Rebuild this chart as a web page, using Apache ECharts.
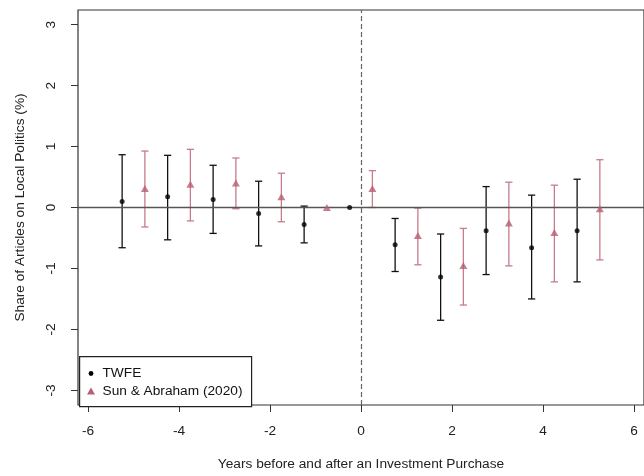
<!DOCTYPE html>
<html>
<head>
<meta charset="utf-8">
<script src="https://cdn.jsdelivr.net/npm/echarts@6/dist/echarts.min.js"></script>
<style>
  html, body { margin: 0; padding: 0; background: #fff; }
  #chart { width: 644px; height: 476px; }
</style>
</head>
<body>
<div id="chart"></div>
<script>
// Event-study estimates: share of articles on local politics (%)
const twfeX   = [-5.25, -4.25, -3.25, -2.25, -1.25, -0.25, 0.75, 1.75, 2.75, 3.75, 4.75];
const twfeEst = [0.10, 0.175, 0.13, -0.10, -0.28, 0, -0.61, -1.14, -0.38, -0.66, -0.38];
const twfeLo  = [-0.66, -0.53, -0.425, -0.63, -0.58, 0, -1.05, -1.85, -1.10, -1.50, -1.22];
const twfeHi  = [0.866, 0.856, 0.693, 0.431, 0.023, 0, -0.18, -0.435, 0.343, 0.203, 0.464];

const saX   = [-4.75, -3.75, -2.75, -1.75, -0.75, 0.25, 1.25, 2.25, 3.25, 4.25, 5.25];
const saEst = [0.31, 0.38, 0.40, 0.175, 0, 0.31, -0.46, -0.95, -0.255, -0.41, -0.02];
const saLo  = [-0.32, -0.22, -0.02, -0.234, 0, 0, -0.94, -1.60, -0.958, -1.22, -0.86];
const saHi  = [0.926, 0.954, 0.812, 0.562, 0, 0.605, -0.01, -0.343, 0.415, 0.366, 0.784];

const xTicks = [-6, -4, -2, 0, 2, 4, 6];
const yTicks = [-3, -2, -1, 0, 1, 2, 3];

const seriesNames = ['TWFE', 'Sun & Abraham (2020)'];
const xTitle = 'Years before and after an Investment Purchase';
const yTitle = 'Share of Articles on Local Politics (%)';

const FONT = '"Liberation Sans", Arial, sans-serif';
const FS = 13.7;
const BLACK = '#111';
const PINK_BAR = '#c77b8b';
const PINK_PT = '#b85f73';

function points(xs, ys) { return xs.map((x, i) => [x, ys[i]]); }
function bars(xs, lo, hi) { return xs.map((x, i) => [x, lo[i], hi[i]]); }

function errorBarRenderer(color) {
  return function (params, api) {
    const x = api.value(0), lo = api.value(1), hi = api.value(2);
    if (lo === hi) return null;
    const a = api.coord([x, lo]);
    const b = api.coord([x, hi]);
    const w = 3.6;
    const style = { stroke: color, lineWidth: 1.3 };
    return {
      type: 'group',
      children: [
        { type: 'line', shape: { x1: a[0], y1: a[1], x2: b[0], y2: b[1] }, style },
        { type: 'line', shape: { x1: a[0] - w, y1: a[1], x2: a[0] + w, y2: a[1] }, style },
        { type: 'line', shape: { x1: b[0] - w, y1: b[1], x2: b[0] + w, y2: b[1] }, style }
      ]
    };
  };
}

const chart = echarts.init(document.getElementById('chart'), null, { renderer: 'canvas' });

const axisText = { color: '#222', fontFamily: FONT, fontSize: FS };

chart.setOption({
  animation: false,
  backgroundColor: '#fff',
  grid: {
    left: 78, top: 10, width: 575, height: 396,
    show: true, borderColor: '#333', borderWidth: 1.2, backgroundColor: 'transparent'
  },
  xAxis: {
    type: 'value', min: -6.22, max: 6.22,
    name: xTitle, nameLocation: 'middle', nameGap: 52,
    nameTextStyle: axisText,
    axisLine: { show: false, onZero: false },
    splitLine: { show: false },
    axisTick: { show: true, inside: false, length: 7, customValues: xTicks,
      lineStyle: { color: '#333', width: 1 } },
    axisLabel: { customValues: xTicks, margin: 19, ...axisText,
      formatter: v => String(v) }
  },
  yAxis: {
    type: 'value', min: -3.24, max: 3.24,
    name: yTitle, nameLocation: 'middle', nameGap: 51,
    nameTextStyle: axisText,
    axisLine: { show: false, onZero: false },
    splitLine: { show: false },
    axisTick: { show: true, inside: false, length: 7, customValues: yTicks,
      lineStyle: { color: '#333', width: 1 } },
    axisLabel: { customValues: yTicks, margin: 20, rotate: 90, ...axisText,
      formatter: v => String(v) }
  },
  series: [
    {
      type: 'custom', name: seriesNames[0] + ' CI',
      renderItem: errorBarRenderer(BLACK),
      data: bars(twfeX, twfeLo, twfeHi),
      encode: { x: 0, y: [1, 2] },
      z: 3,
      markLine: {
        silent: true, symbol: 'none', label: { show: false },
        data: [
          { yAxis: 0, lineStyle: { color: '#555', width: 1.4, type: 'solid' } },
          { xAxis: 0, lineStyle: { color: '#666', width: 1.2, type: [5, 3] } }
        ]
      }
    },
    {
      type: 'custom', name: seriesNames[1] + ' CI',
      renderItem: errorBarRenderer(PINK_BAR),
      data: bars(saX, saLo, saHi),
      encode: { x: 0, y: [1, 2] },
      z: 3
    },
    {
      type: 'scatter', name: seriesNames[0],
      data: points(twfeX, twfeEst),
      symbol: 'circle', symbolSize: 5,
      itemStyle: { color: '#000' },
      z: 5
    },
    {
      type: 'scatter', name: seriesNames[1],
      data: points(saX, saEst),
      symbol: 'triangle', symbolSize: [8, 7],
      itemStyle: { color: PINK_PT },
      z: 5
    }
  ],
  graphic: [
    {
      type: 'rect', left: 79, top: 356, z: 10,
      shape: { width: 172, height: 50 },
      style: { fill: '#fff', stroke: '#222', lineWidth: 1.2 }
    },
    {
      type: 'circle', z: 11,
      shape: { cx: 91, cy: 373.5, r: 2.4 },
      style: { fill: '#000' }
    },
    {
      type: 'polygon', z: 11,
      shape: { points: [[91, 387.5], [95, 394.5], [87, 394.5]] },
      style: { fill: PINK_PT }
    },
    {
      type: 'text', left: 102.5, top: 366, z: 11,
      style: { text: seriesNames[0], fill: '#111', font: FS + 'px ' + FONT }
    },
    {
      type: 'text', left: 102.5, top: 384, z: 11,
      style: { text: seriesNames[1], fill: '#111', font: FS + 'px ' + FONT }
    }
  ]
});
</script>
</body>
</html>
